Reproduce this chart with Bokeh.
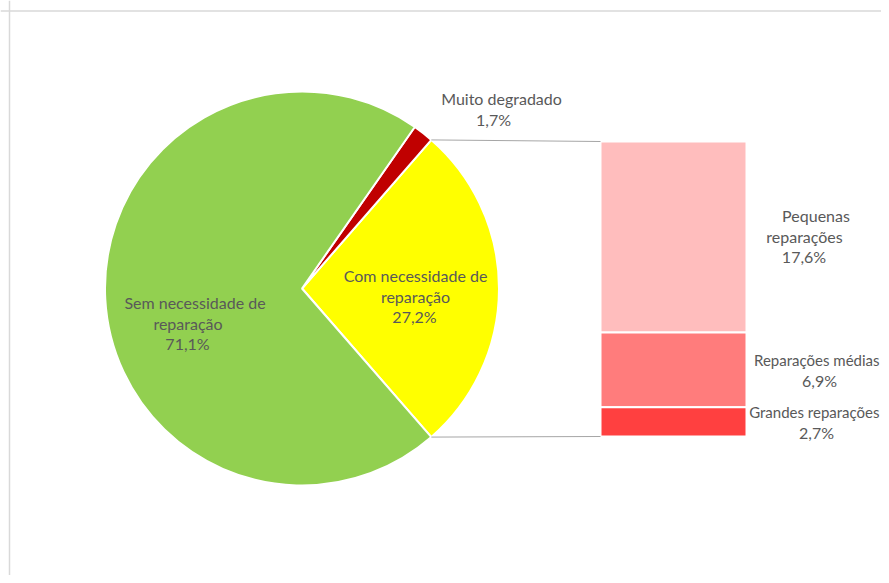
import math
from bokeh.plotting import figure
from bokeh.models import Range1d, Span, ColumnDataSource
from bokeh.core.properties import value
from bokeh.embed import file_html
from bokeh.resources import INLINE

# ---- data ----
pie_names = ["Com necessidade de\nreparação", "Muito degradado", "Sem necessidade de\nreparação"]
pie_values = [27.2, 1.7, 71.1]
pie_colors = ["#FFFF00", "#C00000", "#92D050"]

bar_names = ["Pequenas\nreparações", "Reparações médias", "Grandes reparações"]
bar_values = [17.6, 6.9, 2.7]
bar_colors = ["#FFBDBD", "#FF7C7C", "#FF4040"]

def pct(v):
    return f"{v:.1f}".replace(".", ",") + "%"

# ---- layout (data space = pixels, y up) ----
W, H = 881, 575
cx, cy, R = 301.5, 287.0, 197.0
bar_x0, bar_x1, bar_y0, bar_y1 = 600.0, 746.0, 139.0, 434.0
font = value("Lato")
tcol = "#595959"
fsize = "16px"
lh = 20.5

p = figure(width=W, height=H, x_range=Range1d(0, W), y_range=Range1d(0, H),
           output_backend="svg", toolbar_location=None,
           x_axis_type=None, y_axis_type=None, min_border=0)
p.min_border_left = p.min_border_right = p.min_border_top = p.min_border_bottom = 0
p.grid.visible = False
p.outline_line_color = None
p.background_fill_color = "white"

# chart frame (left and top edges visible)
p.add_layout(Span(location=9, dimension="height", line_color="#D9D9D9", line_width=1.5))
p.add_layout(Span(location=564.5, dimension="width", line_color="#D9D9D9", line_width=1.5))

# ---- pie ----
total = sum(pie_values)
start = -pie_values[0] / total * math.pi
starts, ends = [], []
a = start
for v in pie_values:
    starts.append(a)
    a += v / total * 2 * math.pi
    ends.append(a)
pie_src = ColumnDataSource(dict(x=[cx] * 3, y=[cy] * 3, s=starts, e=ends, c=pie_colors))
p.wedge(x="x", y="y", radius=R, start_angle="s", end_angle="e", fill_color="c",
        line_color="white", line_width=2, source=pie_src)

# ---- bar (stack of the "other" slice) ----
btotal = sum(bar_values)
scale = (bar_y1 - bar_y0) / btotal
tops, bottoms = [], []
y = bar_y1
for v in bar_values:
    tops.append(y)
    y -= v * scale
    bottoms.append(y)
bar_src = ColumnDataSource(dict(l=[bar_x0] * 3, r=[bar_x1] * 3, t=tops, b=bottoms, c=bar_colors))
p.quad(left="l", right="r", top="t", bottom="b", fill_color="c", line_color="white",
       line_width=2, source=bar_src)

# ---- connector lines ----
p1 = (cx + R * math.cos(ends[0]), cy + R * math.sin(ends[0]))
p2 = (cx + R * math.cos(starts[0]), cy + R * math.sin(starts[0]))
p.segment(x0=[p1[0], p2[0]], y0=[p1[1], p2[1]], x1=[bar_x0, bar_x0], y1=[bar_y1, bar_y0],
          line_color="#A6A6A6", line_width=1)

# ---- labels ----
# per label: x of each name line, x of percent line, y of first line, alignment of name lines
label_pos = {
    pie_names[0]: ([415, 415], 414, 300, "center"),
    pie_names[1]: ([501], 493, 477, "center"),
    pie_names[2]: ([194.5, 187.5], 187, 273, "center"),
    bar_names[0]: ([815.5, 804], 803.5, 360, "center"),
    bar_names[1]: ([879], 819, 216, "right"),
    bar_names[2]: ([879], 816, 164, "right"),
}
cx_l, cy_l, ct_l = [], [], []
rx_l, ry_l, rt_l = [], [], []
for name, v in list(zip(pie_names, pie_values)) + list(zip(bar_names, bar_values)):
    xs, xp, y0, align = label_pos[name]
    lines = name.split("\n")
    for i, ln in enumerate(lines):
        if align == "center":
            cx_l.append(xs[i]); cy_l.append(y0 - i * lh); ct_l.append(ln)
        else:
            rx_l.append(xs[i]); ry_l.append(y0 - i * lh); rt_l.append(ln)
    cx_l.append(xp); cy_l.append(y0 - len(lines) * lh); ct_l.append(pct(v))

p.text(x=cx_l, y=cy_l, text=ct_l, text_font=font, text_font_size=fsize, text_color=tcol,
       text_align="center", text_baseline="middle")
# the two long names run into the right edge in the original; slightly smaller so they fit
p.text(x=rx_l, y=ry_l, text=rt_l, text_font=font, text_font_size="15px", text_color=tcol,
       text_align="right", text_baseline="middle")

open("out.html", "w").write(file_html(p, INLINE))
